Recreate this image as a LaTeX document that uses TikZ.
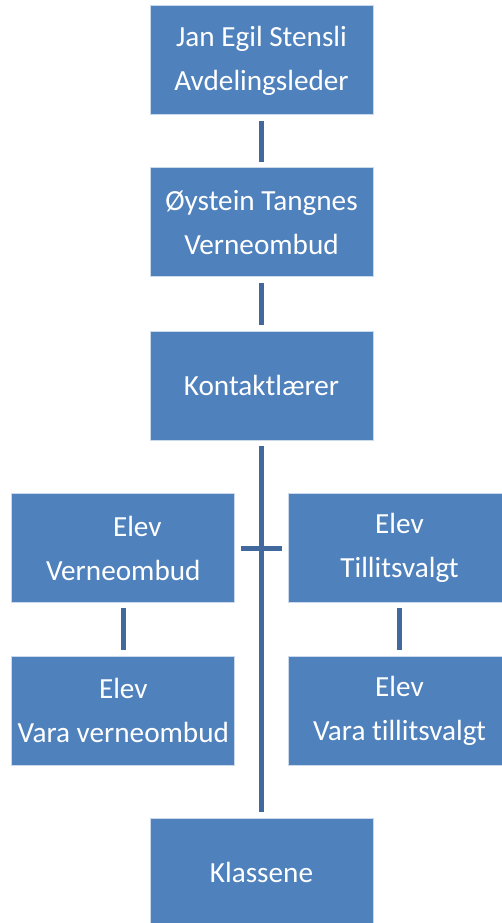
\documentclass[tikz,border=0pt]{standalone}
\usepackage{fontspec}
\setmainfont{Carlito}[Ligatures={NoCommon}]
\definecolor{boxblue}{HTML}{4F81BD}
\definecolor{lineblue}{HTML}{41699E}

\tikzset{every picture/.style={line width=0.75pt}}
\tikzset{
  orgbox/.style={draw=white!70!boxblue, line width=0.75pt, fill=boxblue, text=white,
    minimum width=167.25pt, minimum height=81.75pt, inner sep=0pt, align=center,
    font=\fontsize{21.9}{33}\selectfont},
  link/.style={draw=lineblue, line width=3.75pt, shorten <=4pt, shorten >=4pt}
}

\begin{document}
\begin{tikzpicture}[x=0.75pt,y=0.75pt,yscale=-1]
\clip (0,0) rectangle (502,923);

% Text Node
\node [orgbox] (leder) at (261.5,60.5) {Jan Egil Stensli\\Avdelingsleder};
% Text Node
\node [orgbox] (verneombud) at (261.5,222.5) {Øystein Tangnes\\Verneombud};
% Text Node
\node [orgbox] (kontakt) at (261.5,385.5) {Kontaktlærer};
% Text Node
\node [orgbox] (elevverne) at (123.3,548) {\hspace*{21pt}Elev\\Verneombud};
% Text Node
\node [orgbox] (eleventillit) at (399.5,548) {Elev\\Tillitsvalgt};
% Text Node
\node [orgbox] (varaverne) at (123.3,710.5) {Elev\\Vara verneombud};
% Text Node
\node [orgbox] (varatillit) at (399.5,710.5) {Elev\\Vara tillitsvalgt};
% Text Node
\node [orgbox] (klassene) at (261.5,872.5) {Klassene};

%Straight Lines
\draw [link] (leder) -- (verneombud);
%Straight Lines
\draw [link] (verneombud) -- (kontakt);
%Straight Lines
\draw [link] (kontakt) -- (klassene);
%Straight Lines
\draw [link] (elevverne) -- (eleventillit);
%Straight Lines
\draw [link] (elevverne) -- (varaverne);
%Straight Lines
\draw [link] (eleventillit) -- (varatillit);

\end{tikzpicture}
\end{document}
